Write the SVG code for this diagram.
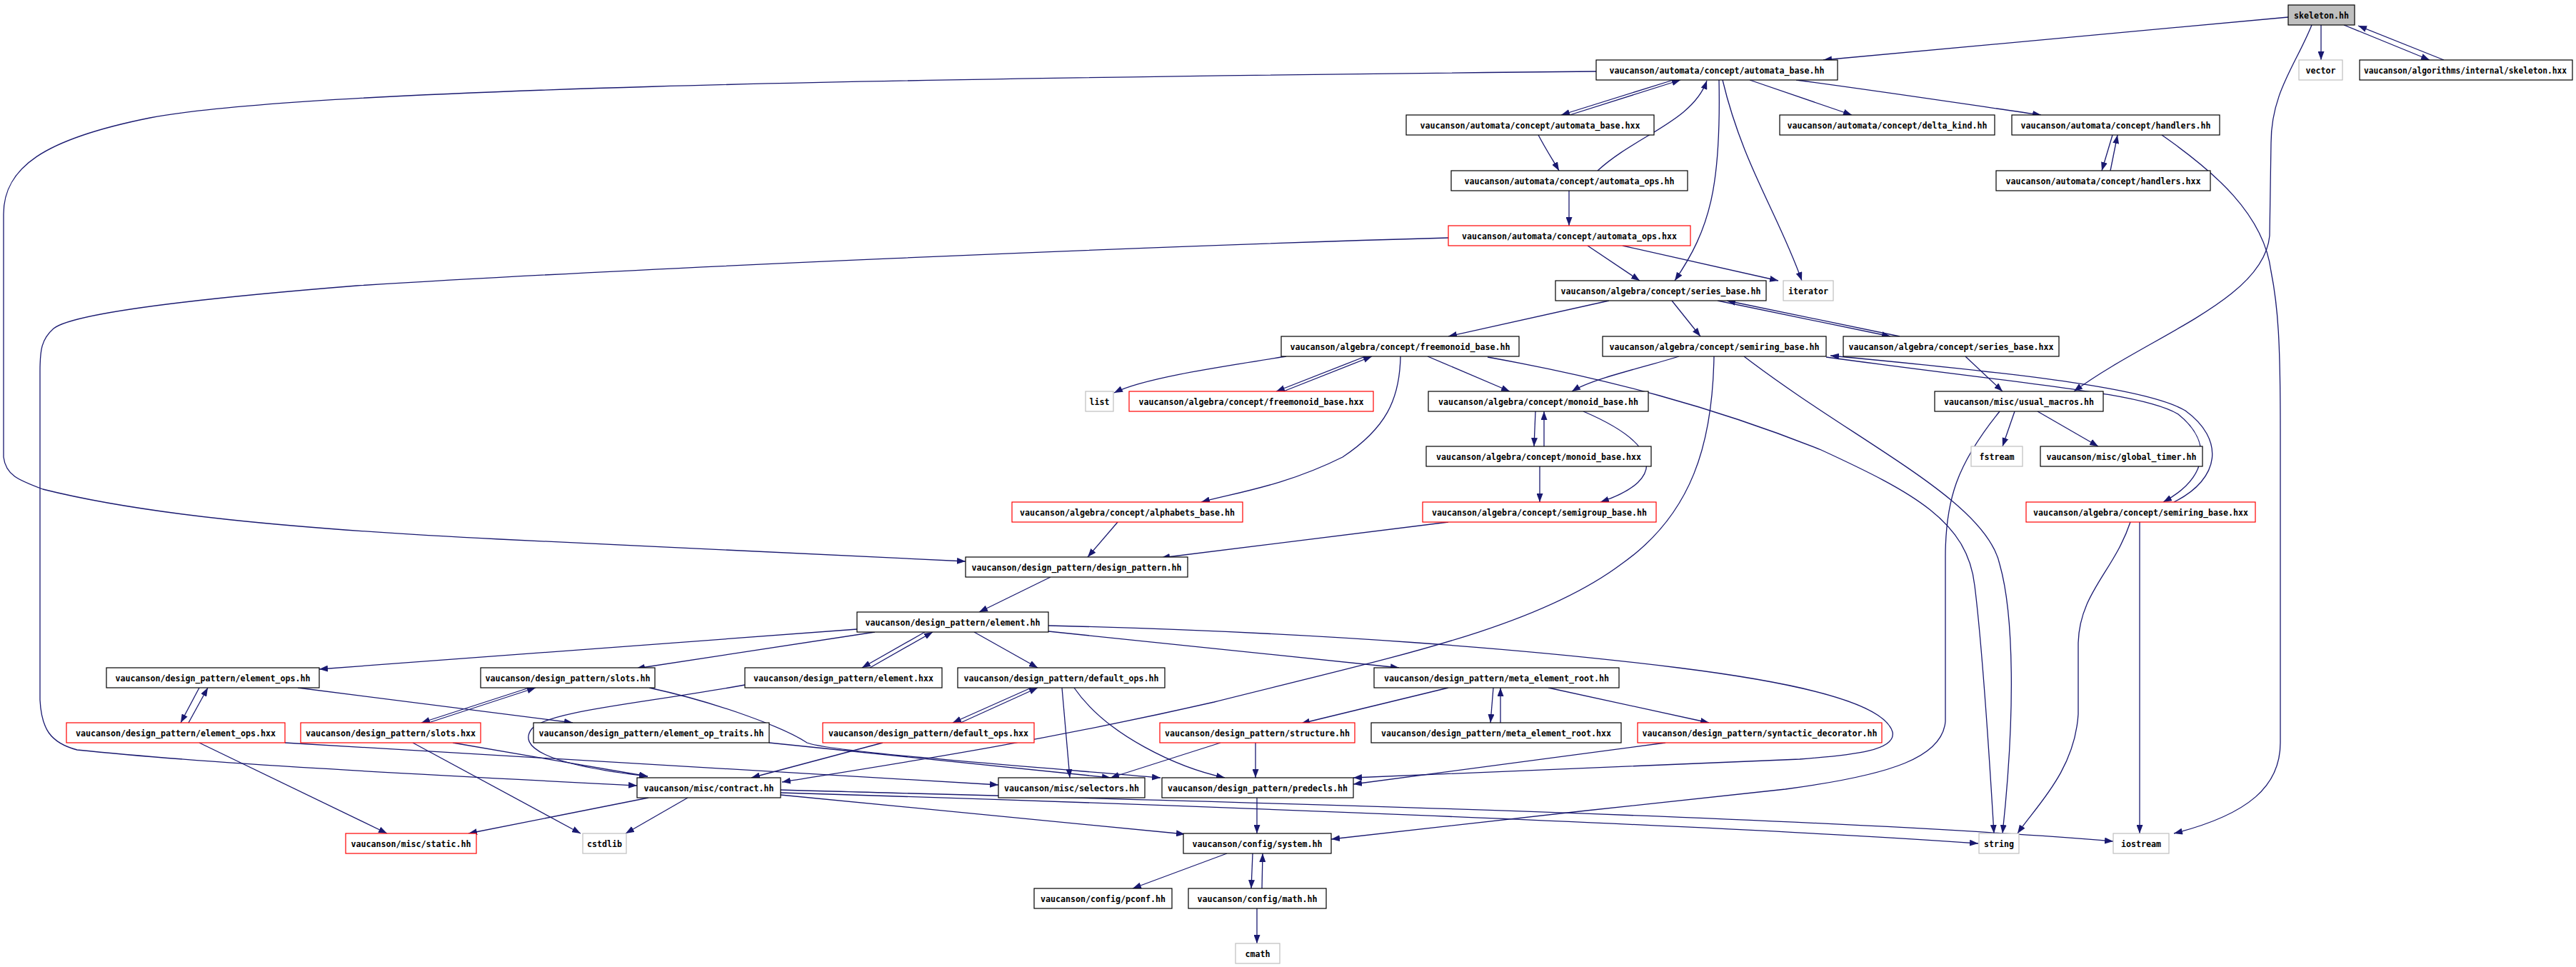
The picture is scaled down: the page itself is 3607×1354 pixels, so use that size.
<svg xmlns="http://www.w3.org/2000/svg" width="3607" height="1354" viewBox="0 0 3607 1354">
<style>
.n rect{fill:#fff;stroke:#000;stroke-width:1.2}
.r rect{fill:#fff;stroke:#ff0000;stroke-width:1.2}
.g rect{fill:#fff;stroke:#bfbfbf;stroke-width:1.2}
.s rect{fill:#bfbfbf;stroke:#000;stroke-width:1.2}
text{font-family:"DejaVu Sans Mono","Liberation Mono",monospace;font-size:13px;font-weight:bold;fill:#000;text-anchor:middle}
#edges path{fill:none;stroke:#191970;stroke-width:1.3;marker-end:url(#a)}
</style>
<defs>
<marker id="a" markerWidth="12" markerHeight="9" refX="12" refY="4.5" orient="auto" markerUnits="userSpaceOnUse"><path d="M0,0L12,4.5L0,9z" fill="#191970"/></marker>
</defs>
<rect width="3607" height="1354" fill="#fff"/>
<g id="edges">
<path d="M3204,24 Q2850,58 2553,84"/>
<path d="M3250,35 L3250,84"/>
<path d="M3282,35 L3402,84"/>
<path d="M3422,84 L3302,36"/>
<path d="M3237,35 C3215,90 3180,130 3180,200 L3178,330 C3170,420 3010,470 2904,548"/>
<path d="M2235,100 C1200,110 420,125 210,165 C60,195 5,235 5,300 L5,640 C8,665 25,672 60,685 C200,720 400,740 700,755 C1000,770 1200,778 1352,786"/>
<path d="M2028,333 C1600,345 900,375 500,400 C250,420 100,440 75,460 C58,475 56,490 56,520 L56,980 C58,1020 70,1040 108,1050 C300,1070 600,1085 892,1100"/>
<path d="M2343,112 L2186,161"/>
<path d="M2198,161 L2353,112"/>
<path d="M2154,189 C2165,210 2175,225 2183,239"/>
<path d="M2237,239 C2290,190 2370,170 2390,113"/>
<path d="M2407,112 C2410,260 2395,320 2345,393"/>
<path d="M2412,112 C2440,230 2490,300 2523,393"/>
<path d="M2450,112 L2593,161"/>
<path d="M2515,112 C2650,130 2780,150 2858,161"/>
<path d="M2958,189 L2943,239"/>
<path d="M2955,239 L2965,189"/>
<path d="M3027,189 C3100,240 3170,300 3180,380 C3190,430 3193,480 3193,600 L3193,1040 C3193,1100 3150,1140 3044,1167"/>
<path d="M2197,267 L2197,316"/>
<path d="M2223,344 L2296,393"/>
<path d="M2272,344 L2490,393"/>
<path d="M2253,421 L2028,471"/>
<path d="M2341,421 L2381,471"/>
<path d="M2405,421 L2647,471"/>
<path d="M2660,471 L2418,421"/>
<path d="M2752,499 L2804,548"/>
<path d="M2557,500 C2850,540 3000,550 3050,580 C3100,620 3090,670 3029,703"/>
<path d="M3044,703 C3110,670 3115,615 3060,575 C3010,545 2850,525 2563,498"/>
<path d="M2351,499 C2300,515 2230,530 2201,548"/>
<path d="M2442,499 C2600,620 2780,700 2800,790 C2820,860 2822,1000 2804,1167"/>
<path d="M2083,500 C2250,530 2400,570 2550,630 C2680,690 2755,730 2765,820 C2775,900 2785,1050 2792,1167"/>
<path d="M2400,499 C2398,620 2370,720 2270,790 C2150,880 1950,920 1700,983 C1450,1040 1250,1070 1095,1095"/>
<path d="M1801,499 C1700,515 1600,530 1560,550"/>
<path d="M1912,499 L1787,548"/>
<path d="M1797,548 L1921,499"/>
<path d="M1961,499 C1960,560 1940,600 1880,640 C1800,680 1730,690 1682,703"/>
<path d="M1999,499 L2114,548"/>
<path d="M2150,576 L2148,625"/>
<path d="M2162,625 L2162,576"/>
<path d="M2217,576 C2320,620 2340,670 2241,703"/>
<path d="M2156,653 L2156,703"/>
<path d="M2821,576 L2804,625"/>
<path d="M2853,576 L2938,625"/>
<path d="M2800,576 C2740,650 2724,700 2724,780 L2724,1010 C2720,1060 2650,1085 2500,1105 C2300,1125 2050,1155 1864,1175"/>
<path d="M2983,731 C2960,800 2912,830 2910,900 L2910,1000 C2905,1080 2850,1130 2825,1167"/>
<path d="M2996,731 L2996,1167"/>
<path d="M2028,731 L1626,781"/>
<path d="M1565,731 L1523,780"/>
<path d="M1471,808 L1371,857"/>
<path d="M1200,881 L447,937"/>
<path d="M1225,885 L891,936"/>
<path d="M1295,885 L1207,935"/>
<path d="M1218,935 L1306,885"/>
<path d="M1364,885 L1453,935"/>
<path d="M1468,884 L1959,935"/>
<path d="M1468,876 C1850,885 2150,910 2350,935 C2550,960 2640,990 2650,1025 C2655,1050 2600,1057 2520,1063 L1895,1089"/>
<path d="M279,963 L253,1012"/>
<path d="M264,1012 L291,963"/>
<path d="M417,963 L802,1012"/>
<path d="M741,963 L590,1012"/>
<path d="M600,1012 L750,963"/>
<path d="M909,963 C1010,985 1100,1020 1130,1040 C1160,1052 1400,1070 1625,1089"/>
<path d="M1043,959 C900,985 770,995 745,1020 C725,1045 760,1070 907,1087"/>
<path d="M1444,963 L1334,1012"/>
<path d="M1345,1012 L1453,963"/>
<path d="M1487,963 L1498,1089"/>
<path d="M1504,963 C1550,1030 1650,1075 1715,1089"/>
<path d="M399,1040 L1398,1099"/>
<path d="M279,1040 L542,1167"/>
<path d="M634,1040 L907,1087"/>
<path d="M578,1040 L813,1167"/>
<path d="M1077,1040 L1555,1089"/>
<path d="M1236,1040 L1052,1089"/>
<path d="M2028,963 L1822,1013"/>
<path d="M2091,963 L2087,1012"/>
<path d="M2101,1012 L2101,963"/>
<path d="M2168,963 L2393,1012"/>
<path d="M2332,1040 L1895,1098"/>
<path d="M1758,1040 L1758,1089"/>
<path d="M1709,1040 L1555,1089"/>
<path d="M1760,1117 L1760,1167"/>
<path d="M908,1117 L656,1167"/>
<path d="M963,1117 L876,1167"/>
<path d="M1093,1113 L1659,1168"/>
<path d="M1093,1106 C1600,1120 2500,1140 2959,1178"/>
<path d="M1093,1110 C1600,1125 2400,1155 2770,1181"/>
<path d="M1718,1195 L1586,1244"/>
<path d="M1754,1195 L1752,1244"/>
<path d="M1767,1244 L1768,1195"/>
<path d="M1760,1272 L1760,1321"/>
</g>
<g id="skeleton_hh" class="s"><rect x="3204" y="7" width="93" height="28"/><text x="3250.5" y="26" textLength="77" lengthAdjust="spacingAndGlyphs">skeleton.hh</text></g>
<g id="automata_base_hh" class="n"><rect x="2235" y="84" width="338" height="28"/><text x="2404" y="103" textLength="301" lengthAdjust="spacingAndGlyphs">vaucanson/automata/concept/automata_base.hh</text></g>
<g id="vector" class="g"><rect x="3219" y="84" width="61" height="28"/><text x="3249.5" y="103" textLength="42" lengthAdjust="spacingAndGlyphs">vector</text></g>
<g id="skeleton_hxx" class="n"><rect x="3304" y="84" width="298" height="28"/><text x="3452" y="103" style="font-size:12px" textLength="284" lengthAdjust="spacingAndGlyphs">vaucanson/algorithms/internal/skeleton.hxx</text></g>
<g id="automata_base_hxx" class="n"><rect x="1969" y="161" width="347" height="28"/><text x="2142.5" y="180" textLength="308" lengthAdjust="spacingAndGlyphs">vaucanson/automata/concept/automata_base.hxx</text></g>
<g id="delta_kind_hh" class="n"><rect x="2492" y="161" width="301" height="28"/><text x="2642.5" y="180" textLength="280" lengthAdjust="spacingAndGlyphs">vaucanson/automata/concept/delta_kind.hh</text></g>
<g id="handlers_hh" class="n"><rect x="2817" y="161" width="291" height="28"/><text x="2962.5" y="180" textLength="266" lengthAdjust="spacingAndGlyphs">vaucanson/automata/concept/handlers.hh</text></g>
<g id="automata_ops_hh" class="n"><rect x="2032" y="239" width="331" height="28"/><text x="2197.5" y="258" textLength="294" lengthAdjust="spacingAndGlyphs">vaucanson/automata/concept/automata_ops.hh</text></g>
<g id="handlers_hxx" class="n"><rect x="2795" y="239" width="300" height="28"/><text x="2945" y="258" textLength="273" lengthAdjust="spacingAndGlyphs">vaucanson/automata/concept/handlers.hxx</text></g>
<g id="automata_ops_hxx" class="r"><rect x="2028" y="316" width="339" height="28"/><text x="2197.5" y="335" textLength="301" lengthAdjust="spacingAndGlyphs">vaucanson/automata/concept/automata_ops.hxx</text></g>
<g id="series_base_hh" class="n"><rect x="2178" y="393" width="295" height="28"/><text x="2325.5" y="412" textLength="280" lengthAdjust="spacingAndGlyphs">vaucanson/algebra/concept/series_base.hh</text></g>
<g id="iterator" class="g"><rect x="2497" y="393" width="70" height="28"/><text x="2532" y="412" textLength="56" lengthAdjust="spacingAndGlyphs">iterator</text></g>
<g id="freemonoid_base_hh" class="n"><rect x="1794" y="471" width="333" height="28"/><text x="1960.5" y="490" textLength="308" lengthAdjust="spacingAndGlyphs">vaucanson/algebra/concept/freemonoid_base.hh</text></g>
<g id="semiring_base_hh" class="n"><rect x="2244" y="471" width="313" height="28"/><text x="2400.5" y="490" textLength="294" lengthAdjust="spacingAndGlyphs">vaucanson/algebra/concept/semiring_base.hh</text></g>
<g id="series_base_hxx" class="n"><rect x="2581" y="471" width="302" height="28"/><text x="2732" y="490" textLength="287" lengthAdjust="spacingAndGlyphs">vaucanson/algebra/concept/series_base.hxx</text></g>
<g id="list" class="g"><rect x="1520" y="548" width="39" height="28"/><text x="1539.5" y="567" textLength="28" lengthAdjust="spacingAndGlyphs">list</text></g>
<g id="freemonoid_base_hxx" class="r"><rect x="1581" y="548" width="342" height="28"/><text x="1752" y="567" textLength="315" lengthAdjust="spacingAndGlyphs">vaucanson/algebra/concept/freemonoid_base.hxx</text></g>
<g id="monoid_base_hh" class="n"><rect x="2000" y="548" width="308" height="28"/><text x="2154" y="567" textLength="280" lengthAdjust="spacingAndGlyphs">vaucanson/algebra/concept/monoid_base.hh</text></g>
<g id="usual_macros_hh" class="n"><rect x="2709" y="548" width="236" height="28"/><text x="2827" y="567" textLength="210" lengthAdjust="spacingAndGlyphs">vaucanson/misc/usual_macros.hh</text></g>
<g id="monoid_base_hxx" class="n"><rect x="1997" y="625" width="315" height="28"/><text x="2154.5" y="644" textLength="287" lengthAdjust="spacingAndGlyphs">vaucanson/algebra/concept/monoid_base.hxx</text></g>
<g id="fstream" class="g"><rect x="2760" y="625" width="72" height="28"/><text x="2796" y="644" textLength="49" lengthAdjust="spacingAndGlyphs">fstream</text></g>
<g id="global_timer_hh" class="n"><rect x="2857" y="625" width="227" height="28"/><text x="2970.5" y="644" textLength="210" lengthAdjust="spacingAndGlyphs">vaucanson/misc/global_timer.hh</text></g>
<g id="alphabets_base_hh" class="r"><rect x="1417" y="703" width="323" height="28"/><text x="1578.5" y="722" textLength="301" lengthAdjust="spacingAndGlyphs">vaucanson/algebra/concept/alphabets_base.hh</text></g>
<g id="semigroup_base_hh" class="r"><rect x="1992" y="703" width="327" height="28"/><text x="2155.5" y="722" textLength="301" lengthAdjust="spacingAndGlyphs">vaucanson/algebra/concept/semigroup_base.hh</text></g>
<g id="semiring_base_hxx" class="r"><rect x="2837" y="703" width="321" height="28"/><text x="2997.5" y="722" textLength="301" lengthAdjust="spacingAndGlyphs">vaucanson/algebra/concept/semiring_base.hxx</text></g>
<g id="design_pattern_hh" class="n"><rect x="1352" y="780" width="311" height="28"/><text x="1507.5" y="799" textLength="294" lengthAdjust="spacingAndGlyphs">vaucanson/design_pattern/design_pattern.hh</text></g>
<g id="element_hh" class="n"><rect x="1200" y="857" width="268" height="28"/><text x="1334" y="876" textLength="245" lengthAdjust="spacingAndGlyphs">vaucanson/design_pattern/element.hh</text></g>
<g id="element_ops_hh" class="n"><rect x="149" y="935" width="298" height="28"/><text x="298" y="954" textLength="273" lengthAdjust="spacingAndGlyphs">vaucanson/design_pattern/element_ops.hh</text></g>
<g id="slots_hh" class="n"><rect x="673" y="935" width="244" height="28"/><text x="795" y="954" textLength="231" lengthAdjust="spacingAndGlyphs">vaucanson/design_pattern/slots.hh</text></g>
<g id="element_hxx" class="n"><rect x="1043" y="935" width="276" height="28"/><text x="1181" y="954" textLength="252" lengthAdjust="spacingAndGlyphs">vaucanson/design_pattern/element.hxx</text></g>
<g id="default_ops_hh" class="n"><rect x="1341" y="935" width="290" height="28"/><text x="1486" y="954" textLength="273" lengthAdjust="spacingAndGlyphs">vaucanson/design_pattern/default_ops.hh</text></g>
<g id="meta_element_root_hh" class="n"><rect x="1924" y="935" width="343" height="28"/><text x="2095.5" y="954" textLength="315" lengthAdjust="spacingAndGlyphs">vaucanson/design_pattern/meta_element_root.hh</text></g>
<g id="element_ops_hxx" class="r"><rect x="93" y="1012" width="306" height="28"/><text x="246" y="1031" textLength="280" lengthAdjust="spacingAndGlyphs">vaucanson/design_pattern/element_ops.hxx</text></g>
<g id="slots_hxx" class="r"><rect x="421" y="1012" width="252" height="28"/><text x="547" y="1031" textLength="238" lengthAdjust="spacingAndGlyphs">vaucanson/design_pattern/slots.hxx</text></g>
<g id="element_op_traits_hh" class="n"><rect x="747" y="1012" width="330" height="28"/><text x="912" y="1031" textLength="315" lengthAdjust="spacingAndGlyphs">vaucanson/design_pattern/element_op_traits.hh</text></g>
<g id="default_ops_hxx" class="r"><rect x="1152" y="1012" width="296" height="28"/><text x="1300" y="1031" textLength="280" lengthAdjust="spacingAndGlyphs">vaucanson/design_pattern/default_ops.hxx</text></g>
<g id="structure_hh" class="r"><rect x="1624" y="1012" width="273" height="28"/><text x="1760.5" y="1031" textLength="259" lengthAdjust="spacingAndGlyphs">vaucanson/design_pattern/structure.hh</text></g>
<g id="meta_element_root_hxx" class="n"><rect x="1920" y="1012" width="350" height="28"/><text x="2095" y="1031" textLength="322" lengthAdjust="spacingAndGlyphs">vaucanson/design_pattern/meta_element_root.hxx</text></g>
<g id="syntactic_decorator_hh" class="r"><rect x="2293" y="1012" width="342" height="28"/><text x="2464" y="1031" textLength="329" lengthAdjust="spacingAndGlyphs">vaucanson/design_pattern/syntactic_decorator.hh</text></g>
<g id="contract_hh" class="n"><rect x="892" y="1089" width="201" height="28"/><text x="992.5" y="1108" textLength="182" lengthAdjust="spacingAndGlyphs">vaucanson/misc/contract.hh</text></g>
<g id="selectors_hh" class="n"><rect x="1398" y="1089" width="205" height="28"/><text x="1500.5" y="1108" textLength="189" lengthAdjust="spacingAndGlyphs">vaucanson/misc/selectors.hh</text></g>
<g id="predecls_hh" class="n"><rect x="1627" y="1089" width="268" height="28"/><text x="1761" y="1108" textLength="252" lengthAdjust="spacingAndGlyphs">vaucanson/design_pattern/predecls.hh</text></g>
<g id="static_hh" class="r"><rect x="484" y="1167" width="183" height="28"/><text x="575.5" y="1186" textLength="168" lengthAdjust="spacingAndGlyphs">vaucanson/misc/static.hh</text></g>
<g id="cstdlib" class="g"><rect x="816" y="1167" width="61" height="28"/><text x="846.5" y="1186" textLength="49" lengthAdjust="spacingAndGlyphs">cstdlib</text></g>
<g id="string" class="g"><rect x="2771" y="1167" width="56" height="28"/><text x="2799" y="1186" textLength="42" lengthAdjust="spacingAndGlyphs">string</text></g>
<g id="iostream" class="g"><rect x="2959" y="1167" width="78" height="28"/><text x="2998" y="1186" textLength="56" lengthAdjust="spacingAndGlyphs">iostream</text></g>
<g id="system_hh" class="n"><rect x="1657" y="1167" width="207" height="28"/><text x="1760.5" y="1186" textLength="182" lengthAdjust="spacingAndGlyphs">vaucanson/config/system.hh</text></g>
<g id="pconf_hh" class="n"><rect x="1448" y="1244" width="193" height="28"/><text x="1544.5" y="1263" textLength="175" lengthAdjust="spacingAndGlyphs">vaucanson/config/pconf.hh</text></g>
<g id="math_hh" class="n"><rect x="1664" y="1244" width="193" height="28"/><text x="1760.5" y="1263" textLength="168" lengthAdjust="spacingAndGlyphs">vaucanson/config/math.hh</text></g>
<g id="cmath" class="g"><rect x="1730" y="1321" width="62" height="28"/><text x="1761" y="1340" textLength="35" lengthAdjust="spacingAndGlyphs">cmath</text></g>
</svg>
